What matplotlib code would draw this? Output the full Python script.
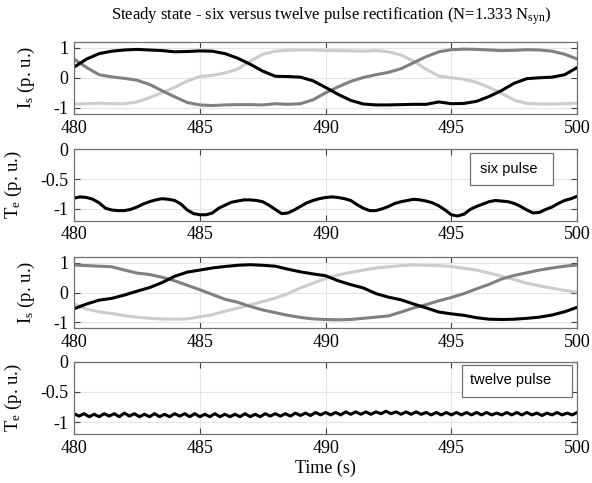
import numpy as np
import matplotlib
matplotlib.use('Agg')
import matplotlib.pyplot as plt
from matplotlib.patches import Rectangle

plt.rcParams['font.family'] = 'Liberation Serif'
plt.rcParams['mathtext.fontset'] = 'custom'
plt.rcParams['mathtext.rm'] = 'Liberation Serif'
plt.rcParams['mathtext.it'] = 'Liberation Serif'

# time grids (s)
t_half = np.arange(480, 500.01, 0.5)
t_quarter = np.arange(480, 500.01, 0.25)
t_fifth = np.arange(480, 500.01, 0.2)

# six pulse stator currents (p.u.), sampled every 0.5 s
six_ia = [0.35, 0.62, 0.80, 0.88, 0.92, 0.94, 0.92, 0.90, 0.86, 0.87, 0.89,
          0.88, 0.80, 0.65, 0.45, 0.22, 0.05, 0.04, 0.02, -0.10, -0.32,
          -0.55, -0.75, -0.87, -0.90, -0.90, -0.89, -0.88, -0.88, -0.80, -0.86,
          -0.85, -0.78, -0.62, -0.42, -0.18, -0.03, 0.00, 0.02, 0.10, 0.34]
six_ib = [0.62, 0.34, 0.10, 0.03, -0.02, -0.08, -0.22, -0.43, -0.63, -0.82, -0.90,
          -0.92, -0.90, -0.89, -0.89, -0.90, -0.86, -0.88, -0.86, -0.73, -0.50,
          -0.30, -0.12, 0.01, 0.10, 0.18, 0.30, 0.50, 0.70, 0.86, 0.93,
          0.95, 0.94, 0.92, 0.90, 0.91, 0.93, 0.92, 0.88, 0.78, 0.62]
six_ic = [-0.87, -0.86, -0.84, -0.86, -0.86, -0.80, -0.66, -0.49, -0.32, -0.11, 0.04,
          0.08, 0.16, 0.28, 0.55, 0.78, 0.88, 0.91, 0.92, 0.92, 0.90,
          0.90, 0.89, 0.88, 0.90, 0.86, 0.75, 0.55, 0.28, 0.06, 0.00,
          -0.05, -0.15, -0.32, -0.52, -0.74, -0.85, -0.87, -0.87, -0.86, -0.84]

# six pulse torque (p.u.), sampled every 0.25 s
six_te = [-0.82, -0.80, -0.81, -0.84, -0.90, -0.99, -1.02, -1.03, -1.03, -1.01,
          -0.97, -0.92, -0.88, -0.85, -0.83, -0.84, -0.86, -0.92, -1.02, -1.08,
          -1.10, -1.10, -1.07, -0.99, -0.94, -0.89, -0.87, -0.85, -0.85, -0.86,
          -0.88, -0.94, -1.01, -1.08, -1.07, -1.02, -0.96, -0.90, -0.86, -0.83,
          -0.81, -0.80, -0.81, -0.83, -0.86, -0.93, -0.99, -1.03, -1.03, -1.00,
          -0.96, -0.91, -0.88, -0.86, -0.84, -0.85, -0.87, -0.90, -0.95, -1.02,
          -1.10, -1.12, -1.09, -1.01, -0.96, -0.92, -0.88, -0.86, -0.87, -0.88,
          -0.91, -0.96, -1.02, -1.07, -1.06, -1.01, -0.97, -0.91, -0.86, -0.83,
          -0.79]

# twelve pulse stator currents (p.u.), sampled every 0.5 s
twelve_ia = [-0.54, -0.38, -0.25, -0.19, -0.08, 0.05, 0.17, 0.34, 0.55, 0.69, 0.76,
             0.83, 0.88, 0.92, 0.94, 0.92, 0.89, 0.79, 0.70, 0.63, 0.57,
             0.40, 0.27, 0.16, -0.03, -0.15, -0.24, -0.38, -0.51, -0.65, -0.71,
             -0.76, -0.84, -0.89, -0.90, -0.89, -0.86, -0.82, -0.75, -0.64, -0.49]
twelve_ib = [0.93, 0.91, 0.89, 0.87, 0.76, 0.66, 0.61, 0.52, 0.40, 0.25, 0.10,
             -0.06, -0.22, -0.32, -0.46, -0.58, -0.67, -0.76, -0.83, -0.88, -0.90,
             -0.91, -0.90, -0.86, -0.82, -0.78, -0.65, -0.51, -0.40, -0.27, -0.16,
             -0.03, 0.13, 0.28, 0.46, 0.58, 0.67, 0.76, 0.83, 0.89, 0.93]
twelve_ic = [-0.37, -0.55, -0.64, -0.70, -0.77, -0.82, -0.86, -0.88, -0.89, -0.88, -0.81,
             -0.74, -0.62, -0.52, -0.41, -0.30, -0.18, -0.03, 0.16, 0.32, 0.48,
             0.60, 0.68, 0.76, 0.83, 0.87, 0.91, 0.93, 0.92, 0.91, 0.88,
             0.82, 0.76, 0.66, 0.55, 0.44, 0.32, 0.23, 0.15, 0.08, 0.02]

# twelve pulse torque (p.u.), sampled every 0.2 s
twelve_te = [-0.86, -0.90, -0.86, -0.91, -0.87, -0.91, -0.86, -0.90, -0.86, -0.91,
             -0.85, -0.90, -0.86, -0.91, -0.87, -0.91, -0.86, -0.91, -0.87, -0.91,
             -0.86, -0.90, -0.86, -0.91, -0.86, -0.91, -0.87, -0.91, -0.86, -0.91,
             -0.87, -0.91, -0.87, -0.91, -0.86, -0.91, -0.87, -0.91, -0.86, -0.90,
             -0.86, -0.90, -0.86, -0.90, -0.85, -0.89, -0.85, -0.89, -0.84, -0.88,
             -0.84, -0.88, -0.84, -0.88, -0.83, -0.87, -0.83, -0.87, -0.83, -0.87,
             -0.83, -0.86, -0.82, -0.86, -0.83, -0.87, -0.83, -0.87, -0.83, -0.87,
             -0.84, -0.88, -0.84, -0.88, -0.84, -0.88, -0.84, -0.88, -0.84, -0.88,
             -0.84, -0.88, -0.84, -0.88, -0.85, -0.88, -0.84, -0.88, -0.84, -0.88,
             -0.84, -0.88, -0.85, -0.89, -0.85, -0.88, -0.84, -0.88, -0.85, -0.88,
             -0.84]

xticks = [480, 485, 490, 495, 500]
black = '#000000'
dgray = '#808080'
lgray = '#cccccc'
lw = 2.2

fig = plt.figure(figsize=(5.92, 4.83), dpi=100)
left, width = 0.125, 0.850
bottoms = [0.764, 0.543, 0.320, 0.101]
heights = [0.150, 0.148, 0.148, 0.150]
axes = [fig.add_axes([left, b, width, h]) for b, h in zip(bottoms, heights)]

ax1, ax2, ax3, ax4 = axes
ax1.plot(t_half, six_ic, color=lgray, lw=lw)
ax1.plot(t_half, six_ib, color=dgray, lw=lw)
ax1.plot(t_half, six_ia, color=black, lw=lw)

ax2.plot(t_quarter, six_te, color=black, lw=lw)

ax3.plot(t_half, twelve_ic, color=lgray, lw=lw)
ax3.plot(t_half, twelve_ib, color=dgray, lw=lw)
ax3.plot(t_half, twelve_ia, color=black, lw=lw)

ax4.plot(t_fifth, twelve_te, color=black, lw=lw)

for ax in (ax1, ax3):
    ax.set_ylim(-1.2, 1.2)
    ax.set_yticks([-1, 0, 1])
    ax.set_yticklabels(['-1', '0', '1'])
    ax.set_ylabel('I$_\\mathrm{s}$ (p. u.)', fontsize=13.5, labelpad=12)
for ax in (ax2, ax4):
    ax.set_ylim(-1.2, 0)
    ax.set_yticks([-1, -0.5, 0])
    ax.set_yticklabels(['-1', '-0.5', '0'])
    ax.set_ylabel('T$_\\mathrm{e}$ (p. u.)', fontsize=13.5, labelpad=12)

for ax in axes:
    ax.set_xlim(480, 500)
    ax.set_xticks(xticks)
    ax.set_xticklabels([str(x) for x in xticks])
    ax.grid(True, color='#e4e4e4', lw=0.8)
    ax.set_axisbelow(True)
    ax.tick_params(direction='in', top=True, right=True, labelsize=13,
                   length=4, width=0.8, color='#404040', pad=4)
    for s in ax.spines.values():
        s.set_color('#707070')
        s.set_linewidth(0.9)

# legend-like label boxes
ax2.add_patch(Rectangle((0.787, 0.50), 0.165, 0.45, transform=ax2.transAxes,
                        fc='white', ec='#707070', lw=0.9, zorder=5))
ax2.text(0.807, 0.73, 'six pulse', transform=ax2.transAxes, family='Liberation Sans',
         fontsize=10.5, ha='left', va='center', zorder=6)
ax4.add_patch(Rectangle((0.771, 0.52), 0.219, 0.44, transform=ax4.transAxes,
                        fc='white', ec='#707070', lw=0.9, zorder=5))
ax4.text(0.786, 0.75, 'twelve pulse', transform=ax4.transAxes, family='Liberation Sans',
         fontsize=10.5, ha='left', va='center', zorder=6)

ax4.set_xlabel('Time (s)', fontsize=13, labelpad=2)
fig.text(0.56, 0.967, 'Steady state - six versus twelve pulse rectification (N=1.333 N$_\\mathrm{syn}$)',
         ha='center', va='center', fontsize=12)

plt.savefig('out.png', dpi=100)
